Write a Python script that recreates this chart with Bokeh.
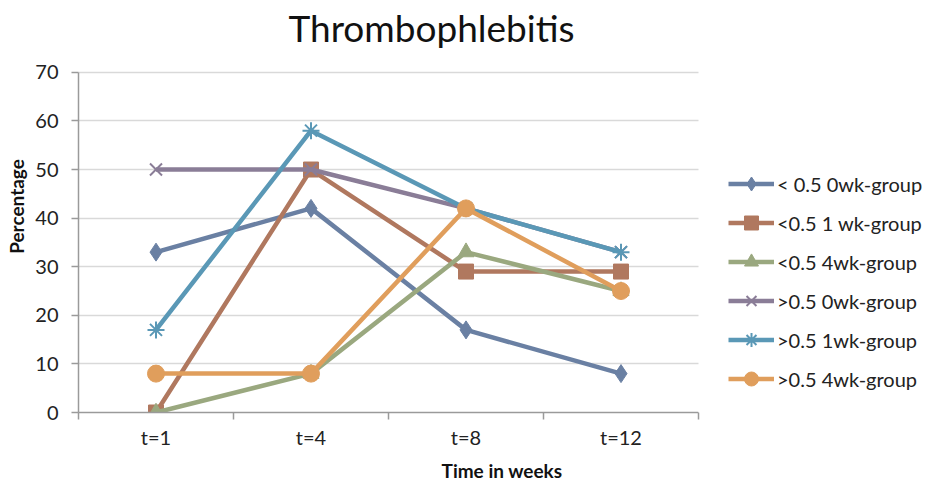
from bokeh.plotting import figure
from bokeh.models import FixedTicker, Legend, LegendItem, Range1d, BoxAnnotation, Label
from bokeh.embed import file_html
from bokeh.resources import INLINE

categories = ["t=1", "t=4", "t=8", "t=12"]
series_names = ["< 0.5 0wk-group", "<0.5 1 wk-group", "<0.5 4wk-group",
                ">0.5 0wk-group", ">0.5 1wk-group", ">0.5 4wk-group"]
lt05_0wk = [33, 42, 17, 8]
lt05_1wk = [0, 50, 29, 29]
lt05_4wk = [0, 8, 33, 25]
gt05_0wk = [50, 50, 42, 33]
gt05_1wk = [17, 58, 42, 33]
gt05_4wk = [8, 8, 42, 25]
y_ticks = [0, 10, 20, 30, 40, 50, 60, 70]

series_values = [lt05_0wk, lt05_1wk, lt05_4wk, gt05_0wk, gt05_1wk, gt05_4wk]
colors = ["#6a80a3", "#b0785f", "#9aa87f", "#8a7d97", "#5a98b6", "#e09e5c"]
markers = ["diamond", "square", "triangle", "x", "asterisk", "circle"]
sizes = [18, 15, 16, 17, 17, 17]

FONT = "Lato"

# Layout: plot area (categories) 620 px wide x 341 px high, placed at (78, 72).
# The frame is extended to the canvas' top and right edges so the title and the
# legend can be drawn in it; the extension is kept blank.
W, H = 925, 484
LEFT, BOTTOM = 78, 71
n = len(categories)
area_w, area_h = 620, 341
y_max = y_ticks[-1]
frame_w = W - LEFT
frame_h = H - BOTTOM
x_end = 0.5 + n * frame_w / area_w
y_end = y_max * frame_h / area_h

p = figure(width=W, height=H, output_backend="svg", toolbar_location=None,
           x_range=Range1d(0.5, x_end), y_range=Range1d(0, y_end),
           min_border_left=LEFT, min_border_right=0, min_border_top=0, min_border_bottom=BOTTOM)

p.outline_line_color = None
p.background_fill_color = "white"
p.border_fill_color = "white"

xs = list(range(1, n + 1))
p.xaxis.ticker = FixedTicker(ticks=xs, minor_ticks=[x + 0.5 for x in range(0, n + 1)])
p.xaxis.major_label_overrides = {x: c for x, c in zip(xs, categories)}
p.xaxis.bounds = (0.5, n + 0.5)
p.xaxis.major_tick_out = 0
p.xaxis.major_tick_in = 0
p.xaxis.minor_tick_out = 7
p.xaxis.minor_tick_in = 0
p.yaxis.ticker = FixedTicker(ticks=y_ticks)
p.yaxis.bounds = (0, y_max)
p.yaxis.minor_tick_line_color = None
p.yaxis.major_tick_out = 7
p.yaxis.major_tick_in = 0

for ax in (p.xaxis, p.yaxis):
    ax.axis_line_color = "#9a9a9a"
    ax.axis_line_width = 1.5
    ax.major_tick_line_color = "#9a9a9a"
    ax.major_tick_line_width = 1.5
    ax.major_label_text_font = FONT
    ax.major_label_text_font_size = "20px"
    ax.major_label_text_color = "#222222"
    ax.axis_label_text_font = FONT
    ax.axis_label_text_font_size = "19px"
    ax.axis_label_text_font_style = "bold"
    ax.axis_label_text_color = "#111111"
p.xaxis.minor_tick_line_color = "#9a9a9a"
p.xaxis.minor_tick_line_width = 1.5
p.xaxis.axis_label = "Time in weeks"
p.yaxis.axis_label = "Percentage"
p.xaxis.major_label_standoff = 5
p.xaxis.axis_label_standoff = 7
p.xaxis.major_label_text_line_height = 0.9
p.xaxis.axis_label_text_line_height = 0.9
p.yaxis.major_label_standoff = 13
p.yaxis.axis_label_standoff = 4

p.xgrid.grid_line_color = None
p.ygrid.grid_line_color = "#d9d9d9"
p.ygrid.grid_line_width = 1.5

items = []
for name, vals, col, mk, sz in zip(series_names, series_values, colors, markers, sizes):
    l = p.line(xs, vals, line_color=col, line_width=4.5)
    if mk in ("x", "asterisk"):
        s = p.scatter(xs, vals, marker=mk, size=sz, line_color=col, line_width=2, fill_color=col)
    else:
        s = p.scatter(xs, vals, marker=mk, size=sz, line_color=col, fill_color=col)
    items.append(LegendItem(label=name, renderers=[l, s]))

# keep the area right of the plot area blank (grid lines stop at the last category edge)
p.add_layout(BoxAnnotation(left=n + 0.5, fill_color="white", fill_alpha=1, line_color=None))

# chart title, centred above the plot area
title = Label(x=0.5 + (431 - LEFT) / (area_w / n), y=(frame_h - 27) * y_max / area_h,
              text="Thrombophlebitis", text_font=FONT, text_font_size="37px",
              text_color="#111111", text_align="center", text_baseline="middle")
p.add_layout(title)

legend = Legend(items=items, location=(650, 16))
legend.label_text_font = FONT
legend.label_text_font_size = "20px"
legend.label_text_color = "#222222"
legend.glyph_width = 46
legend.glyph_height = 35
legend.spacing = 4
legend.label_standoff = 3
legend.padding = 4
legend.margin = 0
legend.border_line_color = None
legend.background_fill_alpha = 0
p.add_layout(legend, "center")

open("out.html", "w").write(file_html(p, INLINE))
